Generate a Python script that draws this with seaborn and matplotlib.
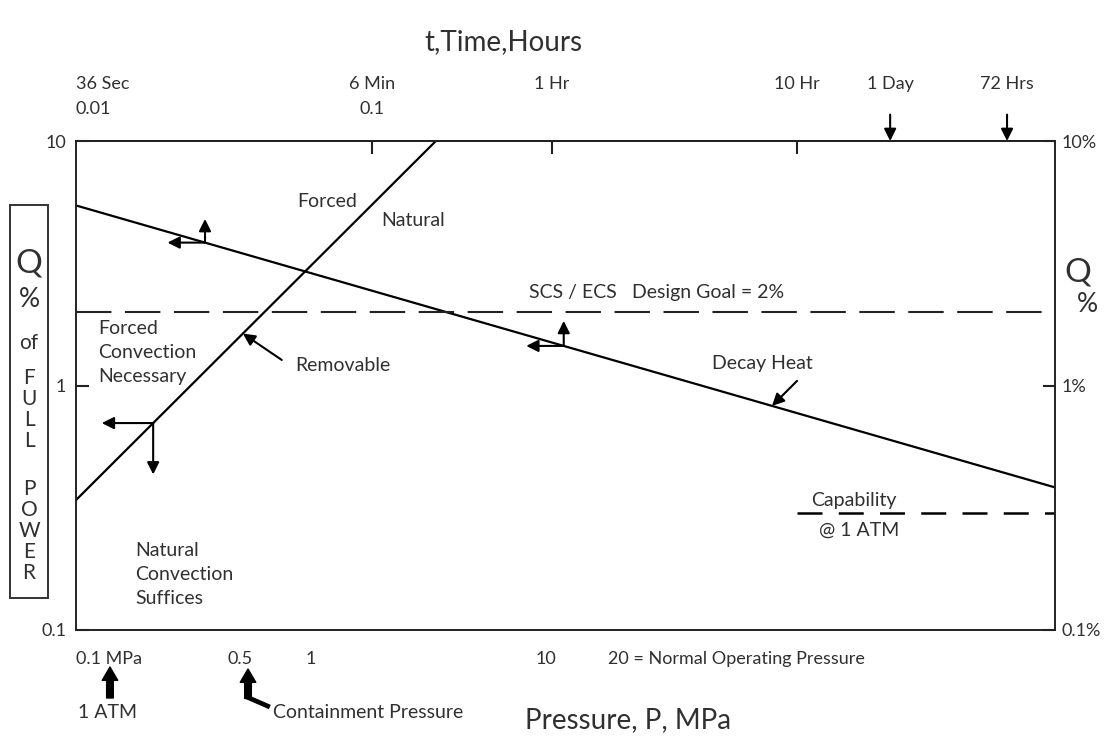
import numpy as np
import matplotlib
matplotlib.use("Agg")
import matplotlib.pyplot as plt
from matplotlib.ticker import NullLocator
from matplotlib.patches import Rectangle
import matplotlib.transforms as mtransforms
import seaborn as sns

sns.set_theme(style="white")
plt.rcParams['font.family'] = ['Lato', 'DejaVu Sans']

# ---------------- data ----------------
P_MIN, P_MAX = 0.1, 1466.0          # pressure axis range, MPa
Q_MIN, Q_MAX = 0.1, 10.0            # Q, % of full power

decay_p = [0.1, 1466.0]             # decay heat curve
decay_q = [5.45, 0.383]
boundary_p = [0.1, 3.40]            # forced / natural convection boundary
boundary_q = [0.34, 10.0]
design_goal_q = 2.0                 # SCS / ECS design goal
capability_p = [117.0, 1466.0]      # capability @ 1 ATM
capability_q = [0.3, 0.3]

pressure_ticks = [0.5, 1, 10, 20]
pressure_labels = ["0.5", "1", "10", "20 = Normal Operating Pressure"]
q_ticks = [0.1, 1, 10]
q_left_labels = ["0.1", "1", "10"]
q_right_labels = ["0.1%", "1%", "10%"]

time_ticks = [0.1, 1, 10]
time_tick_labels = ["6 Min\n0.1", "1 Hr\n ", "10 Hr\n "]
time_marks = [0.01, 24, 72]
time_mark_labels = ["36 Sec\n0.01", "1 Day\n ", "72 Hrs\n "]
# hand-drawn time scale as read against the pressure scale
time_anchor_p = [0.1, 1.82, 10.6, 117.0, 1466.0]
time_anchor_t = [0.01, 0.1, 1.0, 10.0, 113.0]

TXT = "#303030"

def p2t(p):
    p = np.clip(np.asarray(p, dtype=float), 1e-9, None)
    return 10 ** np.interp(np.log10(p), np.log10(time_anchor_p), np.log10(time_anchor_t))

def t2p(t):
    t = np.clip(np.asarray(t, dtype=float), 1e-9, None)
    return 10 ** np.interp(np.log10(t), np.log10(time_anchor_t), np.log10(time_anchor_p))

def on_line(p, xs, ys):
    return 10 ** np.interp(np.log10(p), np.log10(xs), np.log10(ys))

# ---------------- figure ----------------
fig = plt.figure(figsize=(11.07, 7.38), dpi=100)
ax = fig.add_axes([76/1107, 1 - 630/738, 979/1107, 489/738])
ax.set_xscale('log')
ax.set_yscale('log')

sns.lineplot(x=decay_p, y=decay_q, ax=ax, color='black', linewidth=1.6, sort=False)
sns.lineplot(x=boundary_p, y=boundary_q, ax=ax, color='black', linewidth=1.6, sort=False)
sns.lineplot(x=capability_p, y=capability_q, ax=ax, color='black', linewidth=1.8,
             sort=False, linestyle=(0, (10, 6.5)))
ax.axhline(design_goal_q, color='#222222', linewidth=1.5, linestyle=(0, (17, 6.5)))

ax.set_xlim(P_MIN, P_MAX)
ax.set_ylim(Q_MIN, Q_MAX)

for s in ax.spines.values():
    s.set_color('#222222')
    s.set_linewidth(1.4)

# bottom axis
ax.set_xticks(pressure_ticks, pressure_labels)
ax.set_xticks([0.1], ["0.1 MPa"], minor=True)
ax.tick_params(axis='x', which='major', direction='in', length=9, width=1.5,
               color='#222222', labelsize=13, labelcolor=TXT, pad=15, top=False)
ax.tick_params(axis='x', which='minor', length=0, labelsize=13, labelcolor=TXT, pad=15)
shift_left = mtransforms.ScaledTranslation(-6/72, 0, fig.dpi_scale_trans)
for lbl in ax.get_xticklabels():
    if lbl.get_text().startswith("20"):
        lbl.set_ha('left')
        lbl.set_transform(lbl.get_transform() + shift_left)
for lbl in ax.get_xticklabels(minor=True):
    lbl.set_ha('left')

# left axis
ax.set_yticks(q_ticks, q_left_labels)
ax.yaxis.set_minor_locator(NullLocator())
ax.tick_params(axis='y', which='major', direction='in', length=9, width=1.5,
               color='#222222', labelsize=13, labelcolor=TXT, pad=7)

# right axis
axr = ax.twinx()
axr.set_yscale('log')
axr.set_ylim(Q_MIN, Q_MAX)
axr.set_yticks(q_ticks, q_right_labels)
axr.yaxis.set_minor_locator(NullLocator())
axr.tick_params(axis='y', which='major', direction='in', length=9, width=1.5,
                color='#222222', labelsize=13, labelcolor=TXT, pad=5)
for s in axr.spines.values():
    s.set_visible(False)

# top time axis
secax = ax.secondary_xaxis('top', functions=(p2t, t2p))
secax.set_ticks(time_ticks, time_tick_labels)
secax.set_ticks(time_marks, time_mark_labels, minor=True)
secax.tick_params(which='major', direction='in', length=9, width=1.5, color='#222222',
                  labelsize=13, labelcolor=TXT, pad=17)
secax.tick_params(which='minor', length=0, labelsize=13, labelcolor=TXT, pad=17)
secax.spines['top'].set_color('#222222')
secax.spines['top'].set_linewidth(1.4)
for lbl in secax.get_xticklabels(minor=True) + secax.get_xticklabels():
    lbl.set_linespacing(1.75)
for lbl in secax.get_xticklabels(minor=True):
    if "0.01" in lbl.get_text():
        lbl.set_ha('left')
        lbl.set_multialignment('left')

# ---------------- annotations ----------------
def txt(x, y, s, ha='left', va='center', size=14, **kw):
    ax.text(x, y, s, transform=ax.transAxes, ha=ha, va=va, fontsize=size,
            color=TXT, clip_on=False, **kw)

txt(0.2564, 0.8753, "Forced", ha='center')
txt(0.3442, 0.8384, "Natural", ha='center')
txt(0.0225, 0.5685, "Forced\nConvection\nNecessary", linespacing=1.5)
txt(0.2237, 0.5419, "Removable")
txt(0.4627, 0.6892, "SCS / ECS")
txt(0.5679, 0.6892, "Design Goal = 2%")
txt(0.6496, 0.5460, "Decay Heat")
txt(0.0603, 0.1125, "Natural\nConvection\nSuffices", linespacing=1.5)
txt(0.7947, 0.2658, "Capability", ha='center')
txt(0.7998, 0.2045, "@ 1 ATM", ha='center')
txt(0.0020, -0.1677, "1 ATM")
txt(0.2012, -0.1677, "Containment Pressure")

thin = dict(color='black', lw=1.5, shrinkA=0, shrinkB=0, mutation_scale=12)

def corner_arrows(xy, dx, dy):
    ax.annotate('', xy=xy, xytext=(dx, 0), textcoords='offset points',
                arrowprops=dict(arrowstyle='<|-,head_length=0.6,head_width=0.3', **thin))
    ax.annotate('', xy=xy, xytext=(0, dy), textcoords='offset points',
                arrowprops=dict(arrowstyle='<|-,head_length=0.6,head_width=0.3', **thin))

p1 = 0.354
corner_arrows((p1, on_line(p1, decay_p, decay_q)), -27, 17)
p2 = 11.9
corner_arrows((p2, on_line(p2, decay_p, decay_q)), -27, 18)
p3 = 0.213
corner_arrows((p3, on_line(p3, boundary_p, boundary_q)), -37, -37)

p4 = 0.513
ax.annotate('', xy=(p4, on_line(p4, boundary_p, boundary_q)), xytext=(28, -19),
            textcoords='offset points',
            arrowprops=dict(arrowstyle='-|>,head_length=0.6,head_width=0.3', **thin))
p5 = 91.6
ax.annotate('', xy=(p5, on_line(p5, decay_p, decay_q)), xytext=(18, 18),
            textcoords='offset points',
            arrowprops=dict(arrowstyle='-|>,head_length=0.6,head_width=0.3', **thin))

for t in [24, 72]:
    ax.annotate('', xy=(float(t2p(t)), 1.0), xycoords=('data', 'axes fraction'),
                xytext=(0, 19), textcoords='offset points', annotation_clip=False,
                arrowprops=dict(arrowstyle='-|>,head_length=0.6,head_width=0.3', **thin))

thick = dict(arrowstyle='simple,head_length=0.6,head_width=0.7,tail_width=0.3',
             mutation_scale=16, fc='black', ec='black', shrinkA=0, shrinkB=0)
ax.annotate('', xy=(0.0347, -0.0757), xycoords='axes fraction',
            xytext=(0.0347, -0.139), annotation_clip=False, arrowprops=thick)
ax.annotate('', xy=(0.1757, -0.0798), xycoords='axes fraction',
            xytext=(0.1757, -0.140), annotation_clip=False, arrowprops=thick)
ax.plot([0.1745, 0.198], [-0.137, -0.1575], transform=ax.transAxes, clip_on=False,
        color='black', lw=3.4, solid_capstyle='butt')

# axis titles
fig.text(503/1107, 1 - 42/738, "t,Time,Hours", ha='center', va='center',
         fontsize=20, color=TXT)
fig.text(628/1107, 1 - 720/738, "Pressure, P, MPa", ha='center', va='center',
         fontsize=20, color=TXT)

# boxed left label
fig.add_artist(Rectangle((10/1107, 1 - 598/738), 38/1107, 393/738,
                         transform=fig.transFigure, fill=False,
                         edgecolor='#333333', lw=1.4))
left_letters = [("Q", 264, 24), ("%", 299, 19), ("of", 343, 15),
                ("F", 378, 15), ("U", 399, 15), ("L", 420, 15), ("L", 441, 15),
                ("P", 489, 15), ("O", 510, 15), ("W", 531, 15), ("E", 552, 15),
                ("R", 573, 15)]
for s, ypx, sz in left_letters:
    fig.text(29/1107, 1 - ypx/738, s, ha='center', va='center', fontsize=sz, color=TXT)

fig.text(1078/1107, 1 - 272/738, "Q", ha='center', va='center', fontsize=24, color=TXT)
fig.text(1087/1107, 1 - 305/738, "%", ha='center', va='center', fontsize=19, color=TXT)

fig.savefig("out.png", dpi=100, facecolor='white')
